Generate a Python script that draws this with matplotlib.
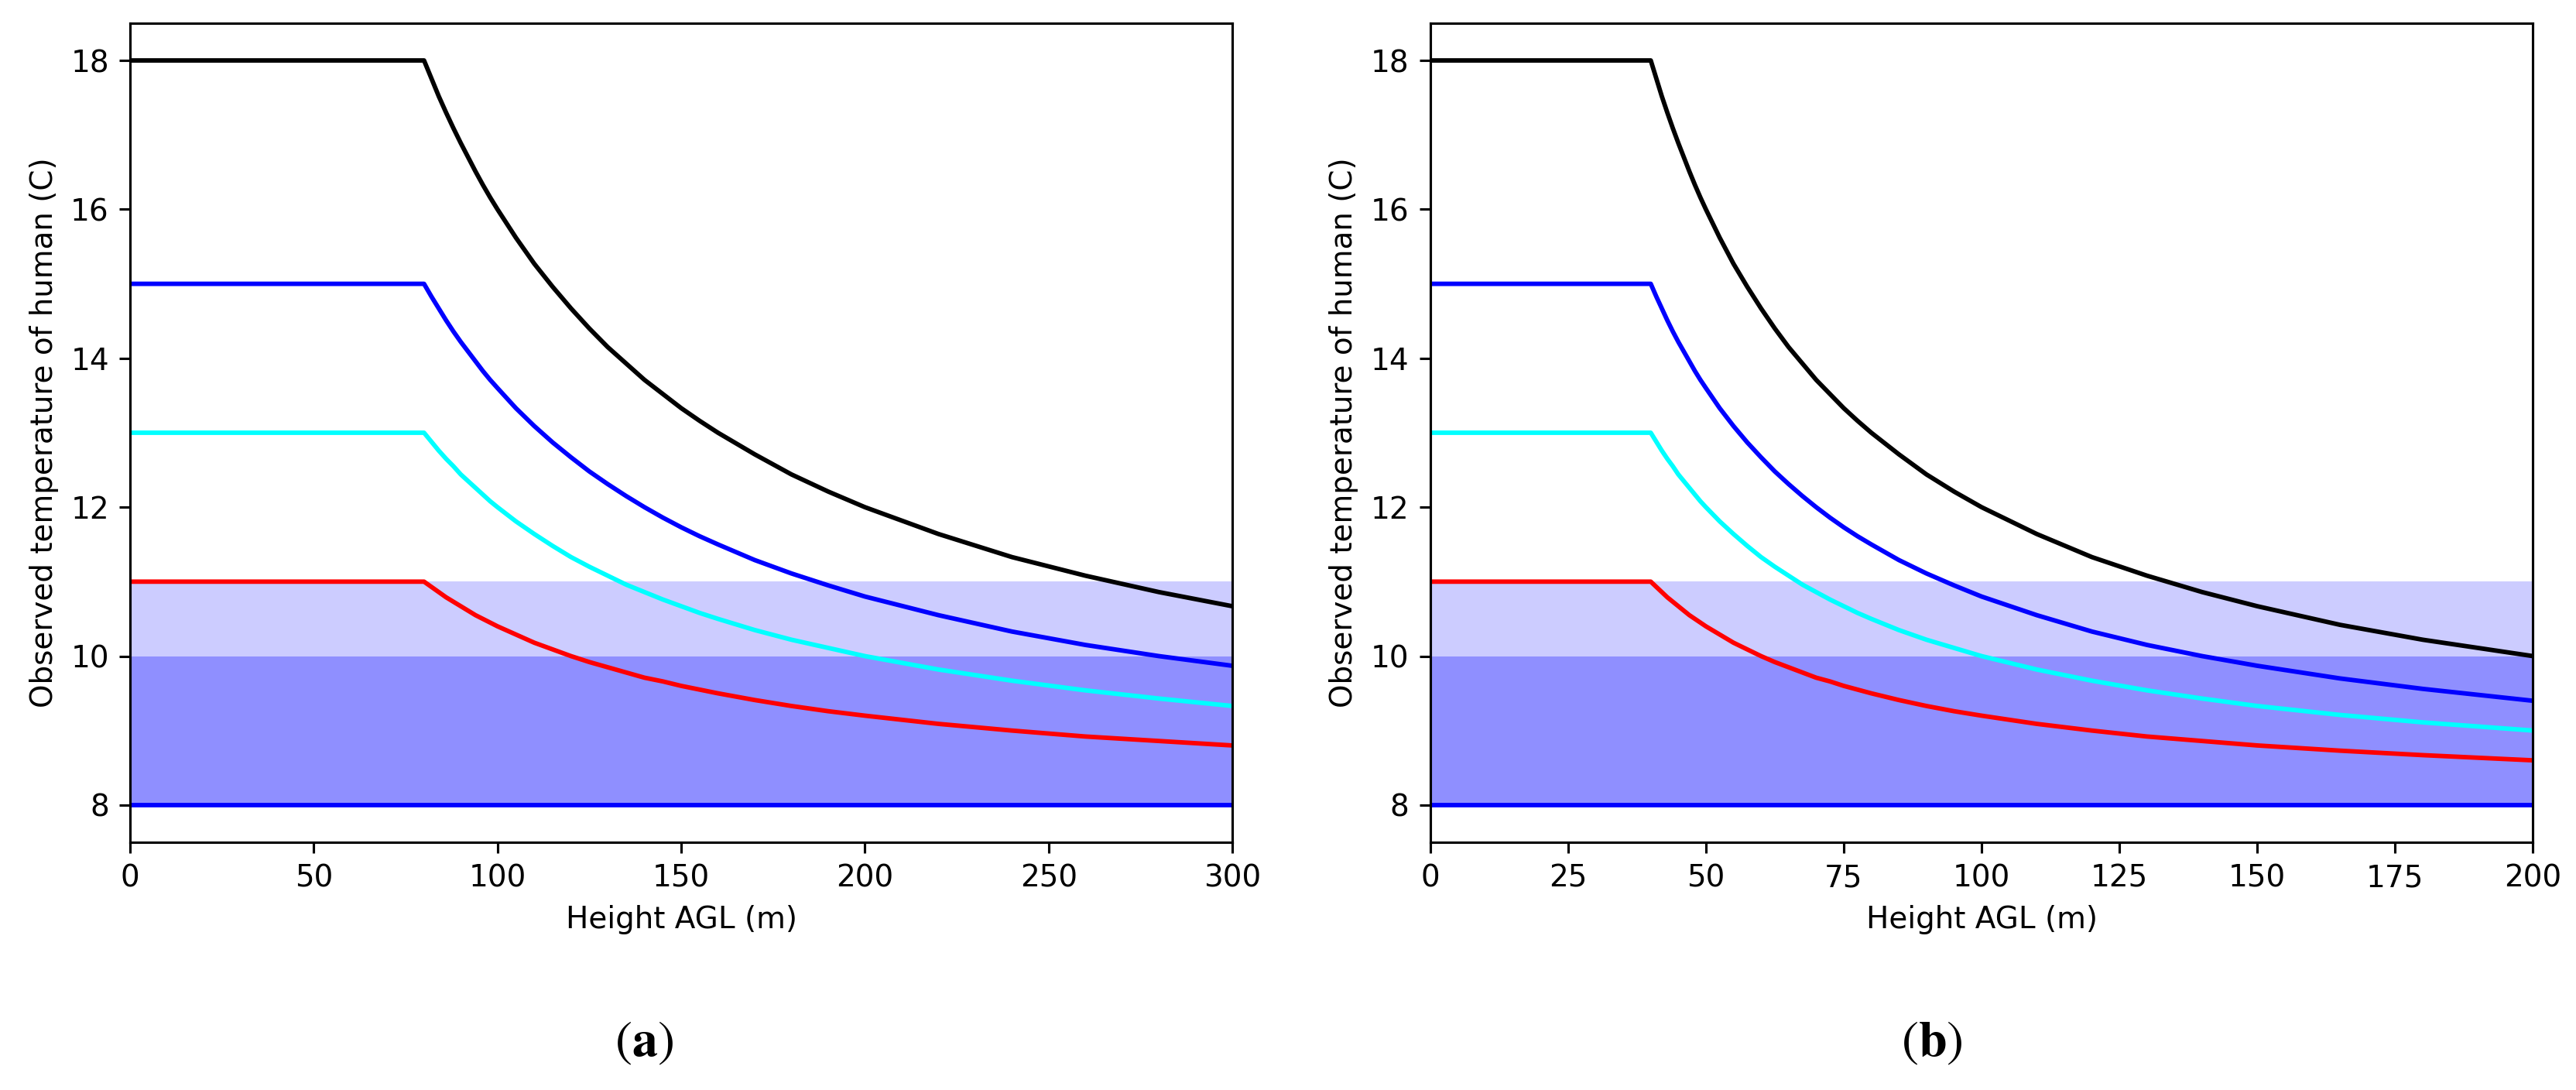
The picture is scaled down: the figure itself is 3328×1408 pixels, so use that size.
import matplotlib
matplotlib.use("Agg")
import matplotlib.pyplot as plt

# panel (a): heights (m) and observed temperatures (C)
heights_a = [0, 80, 82, 84, 86, 88, 90, 92, 94, 96, 98, 100, 105, 110, 115, 120, 125, 130,
             135, 140, 145, 150, 155, 160, 170, 180, 190, 200, 220, 240, 260, 280, 300]
black_a = [18, 18, 17.76, 17.52, 17.30, 17.09, 16.89, 16.70, 16.51, 16.33, 16.16, 16.0, 15.62,
           15.27, 14.96, 14.67, 14.4, 14.15, 13.93, 13.71, 13.52, 13.33, 13.16, 13.0, 12.71,
           12.44, 12.21, 12.0, 11.64, 11.33, 11.08, 10.86, 10.67]
blue_a = [15, 15, 14.83, 14.67, 14.51, 14.36, 14.22, 14.09, 13.96, 13.83, 13.71, 13.6, 13.33,
          13.09, 12.87, 12.67, 12.48, 12.31, 12.15, 12.0, 11.86, 11.73, 11.61, 11.5, 11.29,
          11.11, 10.95, 10.8, 10.55, 10.33, 10.15, 10.0, 9.87]
cyan_a = [13, 13, 12.88, 12.76, 12.65, 12.55, 12.44, 12.35, 12.26, 12.17, 12.08, 12.0, 11.81,
          11.64, 11.48, 11.33, 11.2, 11.08, 10.96, 10.86, 10.76, 10.67, 10.58, 10.5, 10.35,
          10.22, 10.11, 10.0, 9.82, 9.67, 9.54, 9.43, 9.33]
red_a = [11, 11, 10.93, 10.86, 10.79, 10.73, 10.67, 10.61, 10.55, 10.5, 10.45, 10.4, 10.29,
         10.18, 10.09, 10.0, 9.92, 9.85, 9.78, 9.71, 9.66, 9.6, 9.55, 9.5, 9.41, 9.33, 9.26,
         9.2, 9.09, 9.0, 8.92, 8.86, 8.8]

# panel (b)
heights_b = [0, 40, 41, 42, 43, 44, 45, 46, 47, 48, 49, 50, 52.5, 55, 57.5, 60, 62.5, 65,
             67.5, 70, 72.5, 75, 77.5, 80, 85, 90, 95, 100, 110, 120, 130, 140, 150, 165, 180, 200]
black_b = [18, 18, 17.76, 17.52, 17.30, 17.09, 16.89, 16.70, 16.51, 16.33, 16.16, 16.0, 15.62,
           15.27, 14.96, 14.67, 14.4, 14.15, 13.93, 13.71, 13.52, 13.33, 13.16, 13.0, 12.71,
           12.44, 12.21, 12.0, 11.64, 11.33, 11.08, 10.86, 10.67, 10.42, 10.22, 10.0]
blue_b = [15, 15, 14.83, 14.67, 14.51, 14.36, 14.22, 14.09, 13.96, 13.83, 13.71, 13.6, 13.33,
          13.09, 12.87, 12.67, 12.48, 12.31, 12.15, 12.0, 11.86, 11.73, 11.61, 11.5, 11.29,
          11.11, 10.95, 10.8, 10.55, 10.33, 10.15, 10.0, 9.87, 9.7, 9.56, 9.4]
cyan_b = [13, 13, 12.88, 12.76, 12.65, 12.55, 12.44, 12.35, 12.26, 12.17, 12.08, 12.0, 11.81,
          11.64, 11.48, 11.33, 11.2, 11.08, 10.96, 10.86, 10.76, 10.67, 10.58, 10.5, 10.35,
          10.22, 10.11, 10.0, 9.82, 9.67, 9.54, 9.43, 9.33, 9.21, 9.11, 9.0]
red_b = [11, 11, 10.93, 10.86, 10.79, 10.73, 10.67, 10.61, 10.55, 10.5, 10.45, 10.4, 10.29,
         10.18, 10.09, 10.0, 9.92, 9.85, 9.78, 9.71, 9.66, 9.6, 9.55, 9.5, 9.41, 9.33, 9.26,
         9.2, 9.09, 9.0, 8.92, 8.86, 8.8, 8.73, 8.67, 8.6]

ambient = 8
band_dark = (8, 10)
band_light = (10, 11)

xticks_a = [0, 50, 100, 150, 200, 250, 300]
xticks_b = [0, 25, 50, 75, 100, 125, 150, 175, 200]
yticks = [8, 10, 12, 14, 16, 18]

plt.rcParams["mathtext.fontset"] = "stix"

fig = plt.figure(figsize=(3328 / 280, 1408 / 280), dpi=280)
ax1 = fig.add_axes([0.0505, 0.2273, 0.4279, 0.7514])
ax2 = fig.add_axes([0.5552, 0.2273, 0.4281, 0.7514])

panels = [
    (ax1, heights_a, [black_a, blue_a, cyan_a, red_a], xticks_a, r"$(\mathbf{a})$", 0.25),
    (ax2, heights_b, [black_b, blue_b, cyan_b, red_b], xticks_b, r"$(\mathbf{b})$", 0.75),
]

for ax, h, series, xt, tag, xc in panels:
    ax.axhspan(*band_dark, color="blue", alpha=0.44, lw=0)
    ax.axhspan(*band_light, color="blue", alpha=0.2, lw=0)
    for vals, c in zip(series, ["black", "blue", "cyan", "red"]):
        ax.plot(h, vals, color=c, lw=1.5)
    ax.plot([h[0], h[-1]], [ambient, ambient], color="blue", lw=1.5)
    ax.set_xlim(h[0], h[-1])
    ax.set_ylim(7.5, 18.5)
    ax.set_xticks(xt)
    ax.set_yticks(yticks)
    ax.set_xlabel("Height AGL (m)")
    ax.set_ylabel("Observed temperature of human (C)")
    fig.text(xc, 0.044, tag, ha="center", va="center", fontsize=17)

fig.savefig("out.png", dpi=280)
